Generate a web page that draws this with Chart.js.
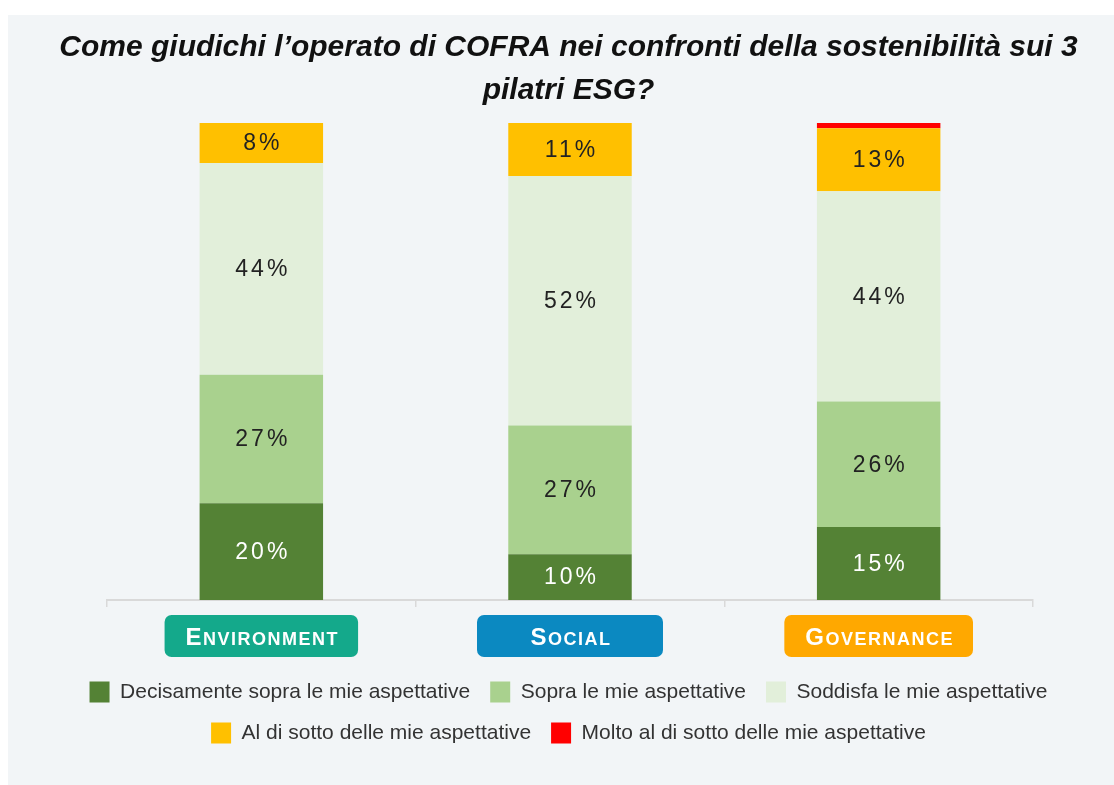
<!DOCTYPE html>
<html lang="it">
<head>
<meta charset="utf-8">
<title>COFRA – pilastri ESG</title>
<script src="https://cdn.jsdelivr.net/npm/chart.js@4.4.1/dist/chart.umd.min.js"></script>
<style>
  html, body { margin:0; background:#fff; }
  #panel { position:absolute; left:8px; top:15px; width:1106px; height:770px; background:#f2f5f7; }
</style>
</head>
<body>
<div id="panel"><canvas id="esg-chart"></canvas></div>
<script>
/* survey: how COFRA is judged on the 3 ESG pillars (% of answers) */

const PILLARS       = ['Environment', 'Social', 'Governance'];
const PILLAR_COLORS = ['#14a98b', '#0b89c1', '#ffa800'];

const DECISAMENTE_SOPRA = [20.3,  9.6, 15.3];
const SOPRA             = [26.9, 27.0, 26.3];
const SODDISFA          = [44.4, 52.3, 44.1];
const AL_DI_SOTTO       = [ 8.4, 11.1, 13.2];
const MOLTO_AL_DI_SOTTO = [ 0,    0,    1.1];

const SERIES = [
  ['Decisamente sopra le mie aspettative',  DECISAMENTE_SOPRA, '#548235'],
  ['Sopra le mie aspettative',              SOPRA,             '#a9d18e'],
  ['Soddisfa le mie aspettative',           SODDISFA,          '#e2efda'],
  ['Al di sotto delle mie aspettative',     AL_DI_SOTTO,       '#ffc000'],
  ['Molto al di sotto delle mie aspettative', MOLTO_AL_DI_SOTTO, '#ff0000'],
];

const FONT = '"Liberation Sans", Arial, Helvetica, sans-serif';
Chart.defaults.font.family = FONT;

// percentages written in the middle of each segment
const segmentLabels = {
  id: 'segmentLabels',
  afterDatasetsDraw(chart) {
    const ctx = chart.ctx;
    ctx.save();
    ctx.font = `23px ${FONT}`;
    ctx.letterSpacing = '3px';
    ctx.textAlign = 'center';
    ctx.textBaseline = 'middle';
    chart.data.datasets.forEach((ds, di) => {
      chart.getDatasetMeta(di).data.forEach((bar, i) => {
        const v = ds.data[i];
        if (v < 3) return;
        ctx.fillStyle = di === 0 ? '#ffffff' : '#222222';
        ctx.fillText(Math.round(v) + '%', bar.x + 1.5, (bar.y + bar.base) / 2 + 1);
      });
    });
    ctx.restore();
  }
};

// coloured small-caps badges under each pillar
const pillarBadges = {
  id: 'pillarBadges',
  afterDraw(chart) {
    const { ctx, chartArea } = chart;
    const xs = chart.scales.x;
    const big = `bold 24px ${FONT}`, small = `bold 18px ${FONT}`;
    const top = chartArea.bottom + 15, bh = 42;
    ctx.save();
    ctx.letterSpacing = '1.5px';
    ctx.textAlign = 'left';
    ctx.textBaseline = 'alphabetic';
    PILLARS.forEach((name, i) => {
      const cx = xs.getPixelForTick(i);
      const first = name[0].toUpperCase(), rest = name.slice(1).toUpperCase();
      ctx.font = big;   const w1 = ctx.measureText(first).width;
      ctx.font = small; const w2 = ctx.measureText(rest).width;
      const tw = w1 + w2;
      const bw = Math.max(186, tw + 40);
      ctx.fillStyle = PILLAR_COLORS[i];
      ctx.beginPath();
      ctx.roundRect(cx - bw / 2, top, bw, bh, 7);
      ctx.fill();
      ctx.fillStyle = '#ffffff';
      const tx = cx - tw / 2 + 1;
      ctx.font = big;   ctx.fillText(first, tx, top + 30);
      ctx.font = small; ctx.fillText(rest, tx + w1, top + 30);
    });
    ctx.restore();
  }
};

new Chart(document.getElementById('esg-chart'), {
  type: 'bar',
  data: {
    labels: PILLARS,
    datasets: SERIES.map(([label, data, color]) => ({
      label, data,
      backgroundColor: color,
      borderWidth: 0,
      barPercentage: 0.4,
      categoryPercentage: 1.0,
    })),
  },
  options: {
    responsive: true, maintainAspectRatio: false, animation: false,
    layout: { padding: { top: 11, left: 15, right: 0, bottom: 31.5 } },
    plugins: {
      title: {
        display: true,
        text: ['Come giudichi l’operato di COFRA nei confronti della sostenibilità sui 3', 'pilatri ESG?'],
        color: '#111111',
        font: { size: 30, weight: 'bold', style: 'italic', lineHeight: '43px' },
        padding: { top: 0, bottom: 11 },
      },
      legend: {
        position: 'bottom',
        labels: { color: '#333333', boxWidth: 20, boxHeight: 21, padding: 20, font: { size: 21 } },
      },
      tooltip: { enabled: false },
    },
    scales: {
      x: {
        stacked: true,
        grid: { display: true, drawOnChartArea: false, drawTicks: true, tickLength: 7, color: '#d9d9d9', lineWidth: 1.5 },
        border: { display: true, color: '#d9d9d9', width: 2 },
        ticks: { color: 'transparent', padding: 0, font: { size: 16, lineHeight: '54.5px' } },
      },
      y: {
        stacked: true, min: 0, max: 100,
        grid: { display: false }, border: { display: false }, ticks: { display: false },
        afterFit: s => { s.width = 84; },
      },
      y2: {
        type: 'linear', position: 'right',
        grid: { display: false }, border: { display: false }, ticks: { display: false },
        afterFit: s => { s.width = 81; },
      },
    },
  },
  plugins: [segmentLabels, pillarBadges],
});
</script>
</body>
</html>
